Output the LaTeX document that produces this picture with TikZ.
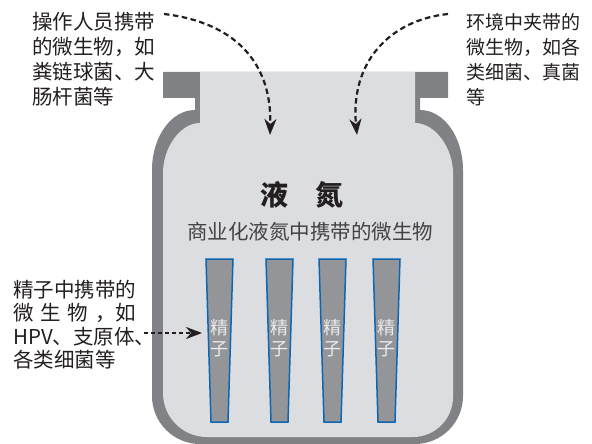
\documentclass[tikz,border=0pt]{standalone}
\usepackage{fontspec}
\newfontfamily\cjk{Noto Sans CJK SC}
\usetikzlibrary{arrows.meta}
\definecolor{jarouter}{RGB}{128,130,133}
\definecolor{jarinner}{RGB}{220,221,224}
\definecolor{tubefill}{RGB}{147,149,152}
\definecolor{tubeedge}{RGB}{12,102,178}
\definecolor{ink}{RGB}{35,31,32}
\begin{document}
\begin{tikzpicture}[x=1pt,y=-1pt,
  lbl/.style={anchor=base west,inner sep=0pt,align=left,text=ink},
  darrow/.style={draw=ink,line width=2.2pt,dash pattern=on 5.5pt off 3.5pt,
    -{Stealth[length=16pt,width=12pt,inset=5pt]}},
  tubebox/.style={fill=tubefill,draw=tubeedge,line width=1.5pt,line join=miter},
  tubetxt/.style={inner sep=0pt,align=center,text=white!92!black,
    font=\cjk\fontsize{18}{21}\selectfont}
]
\useasboundingbox (0,0) rectangle (592,444);
% jar outer
\fill[jarouter] (163,72) -- (448,72) -- (448,98) -- (420,98) -- (420,110)
  .. controls (444,110) and (463,137) .. (463,170)
  -- (463,396) .. controls (463,422.5) and (441.5,444) .. (415,444)
  -- (200,444) .. controls (173.5,444) and (152,422.5) .. (152,396)
  -- (152,170) .. controls (152,137) and (171,110) .. (195,110)
  -- (195,98) -- (163,98) -- cycle;
% jar inner
\fill[jarinner] (200,72) -- (415,72) -- (415,123)
  .. controls (435,123) and (453,148) .. (453,173)
  -- (453,397) .. controls (453,419) and (435,437) .. (413,437)
  -- (207,437) .. controls (182.7,437) and (163,417.3) .. (163,393)
  -- (163,173) .. controls (163,148) and (180,123) .. (200,123) -- cycle;
% title
\node[inner sep=0pt,text=ink,font=\cjk\bfseries\fontsize{28}{28}\selectfont] (title) at (302,195) {液\hspace{0.95em}氮};
\node[inner sep=0pt,text=ink!85!white,font=\cjk\fontsize{20.5}{20.5}\selectfont] (sub) at (310,232) {商业化液氮中携带的微生物};
% tubes
\foreach \c/\n in {219.5/1,279.5/2,332.5/3,386.5/4}{
  \draw[tubebox] (\c-13.5,259) -- (\c+13.5,259) -- (\c+8.5,422) -- (\c-8.5,422) -- cycle;
  \node[tubetxt] (t\n) at (\c,338) {精\\子};
}
% labels (anchor at baseline of last line)
\node[lbl,font=\cjk\fontsize{20.5}{25}\selectfont] (tl) at (32,104.6)
  {操作人员携带\\的微生物，如\\粪链球菌、大\\肠杆菌等};
\node[lbl,font=\cjk\fontsize{19}{25}\selectfont] (tr) at (466,104.2)
  {环境中夹带的\\微生物，如各\\类细菌、真菌\\等};
\node[lbl,font=\cjk\fontsize{20.5}{23.3}\selectfont] (bl) at (13,367.5)
  {精子中携带的\\\makebox[6em][s]{微\hfill 生\hfill 物\hfill ，如}\\HPV、支原体、\\各类细菌等};
% arrows
\coordinate (tlS) at (164,14);
\coordinate (tlE) at (270,135);
\coordinate (trS) at (448,14);
\coordinate (trE) at (357,135);
\coordinate (blS) at (144,333);
\coordinate (blE) at (202,333);
\draw[darrow] (tlS) .. controls (232,22) and (272,60) .. (tlE);
\draw[darrow] (trS) .. controls (390,20) and (350,62) .. (trE);
\draw[darrow,line width=1.8pt,dash pattern=on 4pt off 3pt] (blS) -- (blE);
\end{tikzpicture}
\end{document}
